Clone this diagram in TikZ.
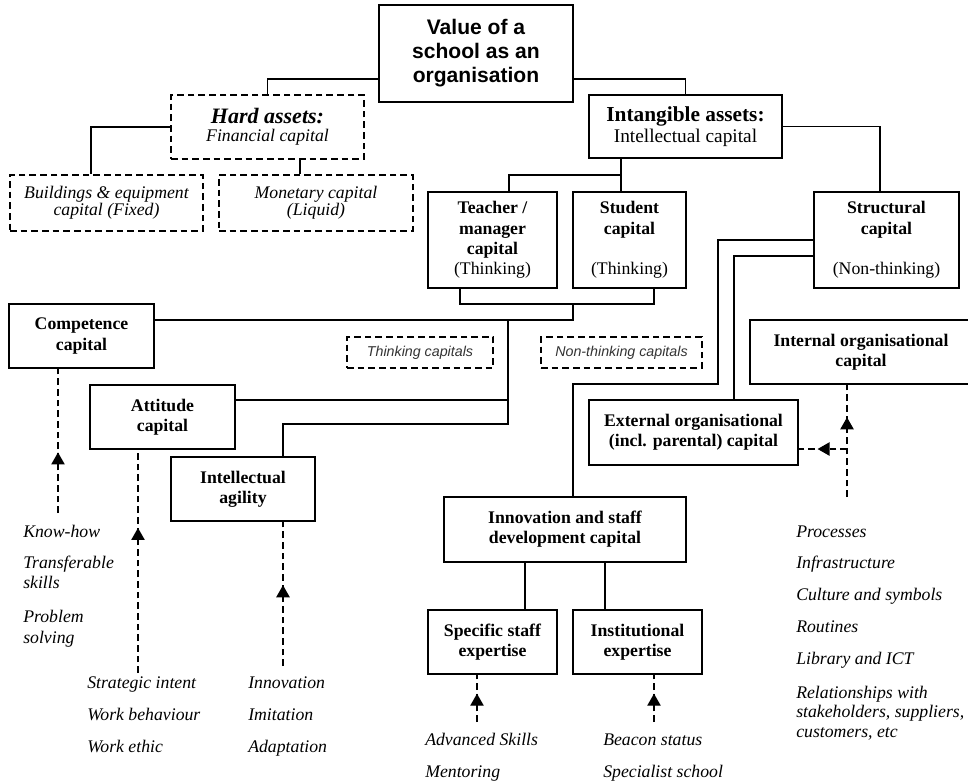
\documentclass[tikz,border=0pt]{standalone}
\usepackage{fontspec}
\setmainfont{Liberation Serif}
\setsansfont{Liberation Sans}
\usetikzlibrary{arrows.meta,calc,decorations.markings}
\tikzset{
  solidbox/.style={ draw, line width=1.2pt, inner sep=0pt, align=center, font=\fontsize{13.3}{15.2}\selectfont\bfseries }
}
\tikzset{
  dashbox/.style={ draw, dash pattern=on 5pt off 3pt, line width=1.1pt, inner sep=0pt, align=center, font=\fontsize{13.3}{12.5}\selectfont\itshape }
}
\tikzset{
  tagbox/.style={ draw, dash pattern=on 5pt off 3pt, line width=1.1pt, inner sep=0pt, minimum height=23.25pt, font=\sffamily\itshape\fontsize{10.7}{12}\selectfont, text=black!80 }
}
\tikzset{
  itemtext/.style={ anchor=base west, inner sep=0pt, font=\fontsize{13.3}{15.2}\selectfont\itshape }
}
\tikzset{
  link/.style={ line width=1pt }
}
\tikzset{
  feed/.style={ line width=1pt, dash pattern=on 5pt off 3pt, postaction={decorate},
    decoration={markings, mark=at position #1 with {\arrow{Triangle[width=10pt,length=9pt]}}} }
}

\begin{document}
\begin{tikzpicture}[x=0.75pt, y=-0.75pt]
      \useasboundingbox (0,0) rectangle (968,783);
      \clip (0,0) rectangle (968,783);
      % boxes
      \node[solidbox, font=\sffamily\bfseries\fontsize{15.8}{18}\selectfont, minimum width=145.5pt, minimum height=72.75pt] (value) at (476,53.5) {Value of a\\school as an\\organisation};
      \node[dashbox, minimum width=144.75pt, minimum height=48pt] (hard) at (267.5,127) {{\fontsize{16.5}{16}\selectfont\bfseries Hard assets:}\\[1pt]Financial capital};
      \node[dashbox, minimum width=144.75pt, minimum height=42pt] (build) at (106.5,203) {Buildings \& equipment\\capital (Fixed)};
      \node[dashbox, minimum width=145.5pt, minimum height=42pt] (money) at (316,203) {Monetary capital\\(Liquid)};
      \node[solidbox, font=\fontsize{14.5}{15.75}\selectfont, minimum width=144.75pt, minimum height=47.25pt] (intang) at (685.5,126.5) {{\fontsize{16}{16}\selectfont\bfseries Intangible assets:}\\Intellectual capital};
      \node[solidbox, minimum width=96.75pt, minimum height=72pt] (teacher) at (492.5,240) {Teacher /\\manager\\capital\\{\mdseries (Thinking)}};
      \node[solidbox, minimum width=84.75pt, minimum height=72pt] (student) at (629.5,240) {Student\\capital\\[15.2pt]{\mdseries (Thinking)}};
      \node[solidbox, minimum width=108.75pt, minimum height=72pt] (struct) at (886.5,240) {Structural\\capital\\[15.2pt]{\mdseries (Non-thinking)}};
      \node[solidbox, minimum width=108.75pt, minimum height=48pt] (compet) at (81.5,336) {Competence\\capital};
      \node[tagbox, minimum width=109.5pt] (thinkc) at (420,352.5) {Thinking capitals};
      \node[tagbox, minimum width=120.75pt] (nonthinkc) at (621.5,352.5) {Non-thinking capitals};
      \node[solidbox, minimum width=108.75pt, minimum height=48pt] (attit) at (162.5,417) {Attitude\\capital};
      \node[solidbox, minimum width=108pt, minimum height=48pt] (agility) at (243,489) {Intellectual\\agility};
      \node[solidbox, minimum width=166.5pt, minimum height=48pt] (internal) at (861,352) {Internal organisational\\capital};
      \node[solidbox, minimum width=156.75pt, minimum height=48.75pt] (external) at (693.5,432.5) {External organisational\\(incl. parental) capital};
      \node[solidbox, minimum width=181.5pt, minimum height=48.75pt] (innov) at (565,529.5) {Innovation and staff\\development capital};
      \node[solidbox, minimum width=96.75pt, minimum height=48pt] (specific) at (492.5,642) {Specific staff\\expertise};
      \node[solidbox, minimum width=96.75pt, minimum height=48pt] (instit) at (637.5,642) {Institutional\\expertise};
      % junctions
      \coordinate (jT) at (621,175);
      \coordinate (jS) at (573,304);
      \coordinate (jC) at (573,320);
      \coordinate (jA) at (508,320);
      \coordinate (jAt) at (508,400);
      \coordinate (jG) at (508,424);
      \coordinate (jN) at (718,384);
      % solid links
      \draw[link] (value.west) ++(0,25.5) -| (hard.north);
      \draw[link] (value.east) ++(0,25.5) -| (intang.north);
      \draw[link] (hard.west) -| ($(build.north)+(-15.5,0)$);
      \draw[link] ($(hard.south)+(32.5,0)$) -- ($(money.north)+(-16,0)$);
      \draw[link] (intang.east) -| ($(struct.north)+(-6.5,0)$);
      \draw[link] ($(intang.south)+(-64.5,0)$) -- ($(student.north)+(-8.5,0)$);
      \draw[link] (jT) -| ($(teacher.north)+(16.5,0)$);
      \draw[link] ($(teacher.south)+(-32.5,0)$) |- (jS) -| ($(student.south)+(24.5,0)$);
      \draw[link] (jS) -- (jC) -- (compet.east |- jC);
      \draw[link] (jA) -- (jG) -| ($(agility.north)+(40,0)$);
      \draw[link] (attit.east |- jAt) -- (jAt);
      \draw[link] (struct.west) -| (jN) -| ($(innov.north)+(8,0)$);
      \draw[link] ($(struct.west)+(0,16)$) -| ($(external.north)+(40.5,0)$);
      \draw[link] ($(innov.south)+(-40,0)$) -- ($(specific.north)+(32.5,0)$);
      \draw[link] ($(innov.south)+(40,0)$) -- ($(instit.north)+(-32.5,0)$);
      % dashed feeds
      \coordinate (kc) at (58,513);
      \coordinate (ka) at (138,673);
      \coordinate (kg) at (283,666);
      \coordinate (ks) at (477,722);
      \coordinate (ki) at (654,722);
      \coordinate (kn) at (847,497);
      \coordinate (kx) at (847,449);
      \draw[feed=0.42] (kc) -- (compet.south -| kc);
      \draw[feed=0.65] (ka) -- (attit.south -| ka);
      \draw[feed=0.56] (kg) -- (agility.south -| kg);
      \draw[feed=0.6] (ks) -- (specific.south -| ks);
      \draw[feed=0.6] (ki) -- (instit.south -| ki);
      \draw[feed=0.71] (kn) -- (internal.south -| kn);
      \draw[feed=0.61] (kx) -- (external.east |- kx);
      % lists
      \foreach \t/\y [count=\i] in {Know-how/537, Transferable/568, skills/588, Problem/622, solving/643}
        \node[itemtext] (kh\i) at (23,\y) {\t};
      \foreach \t/\y [count=\i] in {Strategic intent/688, Work behaviour/720, Work ethic/752}
        \node[itemtext] (si\i) at (87,\y) {\t};
      \foreach \t/\y [count=\i] in {Innovation/688, Imitation/720, Adaptation/752}
        \node[itemtext] (in\i) at (248,\y) {\t};
      \foreach \t/\y [count=\i] in {Advanced Skills/745, Mentoring/777}
        \node[itemtext] (as\i) at (425,\y) {\t};
      \foreach \t/\y [count=\i] in {Beacon status/745, Specialist school/777}
        \node[itemtext] (bs\i) at (603,\y) {\t};
      \foreach \t/\y [count=\i] in {Processes/537, Infrastructure/568, Culture and symbols/600, Routines/632, Library and ICT/664, Relationships with/698, {stakeholders, suppliers,}/717, {customers, etc}/737}
        \node[itemtext] (pr\i) at (796,\y) {\t};
\end{tikzpicture}
\end{document}
